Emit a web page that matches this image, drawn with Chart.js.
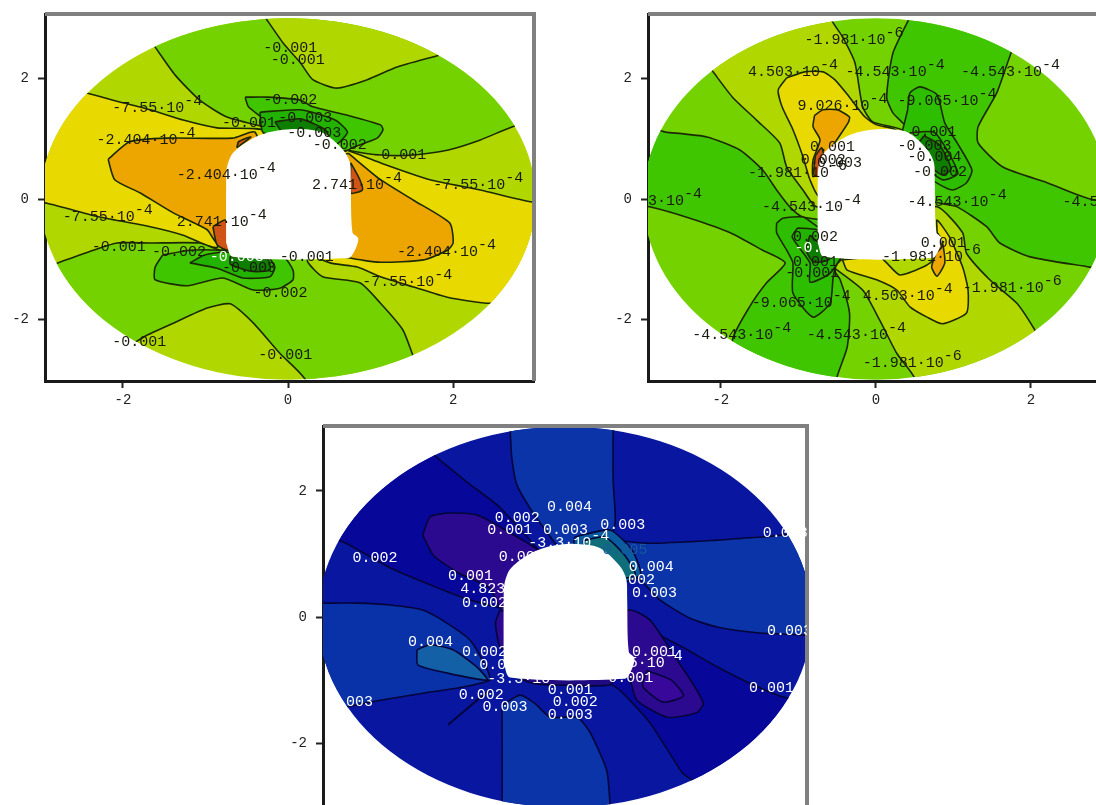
<!DOCTYPE html>
<html>
<head>
<meta charset="utf-8">
<title>Contour panels</title>
<script src="https://cdn.jsdelivr.net/npm/chart.js@4/dist/chart.umd.min.js"></script>
<style>
  html, body { margin: 0; padding: 0; background: #fff; width: 1096px; height: 805px; overflow: hidden; }
  canvas { position: absolute; filter: blur(0.4px); }
  #panel1 { left: 0; top: 0; }
  #panel2 { left: 603px; top: 0; }
  #panel3 { left: 278px; top: 412px; }
</style>
</head>
<body>
<canvas id="panel1" width="548" height="411"></canvas>
<canvas id="panel2" width="517" height="411"></canvas>
<canvas id="panel3" width="543" height="426"></canvas>
<script>
const tickValues = [-2, 0, 2];

// tunnel opening, same in all three panels
const hole = [[-0.75,-0.73],[-0.67,-0.96],[0.73,-0.98],[0.81,-0.85],[0.85,-0.65],[0.78,-0.55],[0.76,0.32],[0.75,0.6],[0.67,0.81],[0.42,1.10],[0.11,1.16],[-0.22,1.11],[-0.46,0.98],[-0.67,0.76],[-0.74,0.53],[-0.75,0.32]];
const wholeDisc = [[-4,-4],[4,-4],[4,4],[-4,4]];

// panel 1 contours
const p1UpperGreen = [[-1.61,2.52],[-1.37,2.06],[-1.07,1.64],[-0.74,1.36],[-0.25,1.18],[0.15,0.98],[0.72,0.81],[1.12,0.73],[1.52,0.73],[1.93,0.81],[2.33,0.98],[2.72,1.20],[3.5,1.5],[3.5,3.5],[-1.9,3.2]];
const p1TopCap = [[-0.28,3.02],[-0.06,2.59],[0.15,2.26],[0.30,1.98],[0.59,1.84],[0.96,1.98],[1.32,2.19],[1.84,2.39],[2.6,2.7],[2.6,3.8],[-0.4,3.8]];
const p1UpperDark = [[-0.52,1.69],[-0.25,1.69],[0.15,1.64],[0.30,1.53],[0.72,1.39],[1.12,1.23],[1.15,1.15],[1.08,1.01],[0.79,0.86],[0.72,0.81],[0.5,0.8],[-0.3,1.0],[-0.25,1.26],[-0.48,1.53]];
const p1UpperDarker = [[-0.34,1.44],[0.15,1.48],[0.57,1.31],[0.72,1.11],[0.57,0.9],[0.2,1.0],[-0.3,1.1]];
const p1UpperDarkest = [[-0.16,1.28],[0.15,1.33],[0.45,1.15],[0.5,0.95],[0,1.0]];
const p1LeftYellow = [[-2.44,1.76],[-2.12,1.64],[-1.67,1.48],[-1.27,1.31],[-0.86,1.18],[-0.25,1.11],[-0.3,0],[-0.86,-0.80],[-1.27,-0.60],[-1.67,-0.46],[-2.28,-0.30],[-2.92,-0.07],[-3.6,0.1],[-3.5,2.2]];
const p1RightYellow = [[0.72,0.81],[1.12,0.6],[1.72,0.32],[2.33,0.15],[2.96,-0.05],[3.6,-0.1],[3.4,-1.6],[2.45,-1.73],[1.93,-1.63],[1.52,-1.46],[1.12,-1.29],[0.84,-1.13],[0.51,-1.06],[0.3,-0.9],[0.3,0.5]];
const p1LowerGreen = [[-2.79,-1.06],[-2.36,-0.85],[-2.07,-0.73],[-1.67,-0.73],[-1.07,-0.73],[-0.82,-0.85],[-0.5,-0.8],[0.2,-0.8],[0.24,-1.05],[0.42,-1.29],[0.87,-1.39],[1.12,-1.73],[1.39,-2.17],[1.52,-2.62],[1.7,-3.2],[0.3,-3.6],[0.21,-3.0],[-0.10,-2.56],[-0.42,-2.06],[-0.70,-1.74],[-0.98,-1.81],[-1.39,-2.06],[-1.71,-2.26],[-2.2,-2.6],[-3.4,-1.6]];
const p1LowerDark = [[-1.52,-0.93],[-1.61,-1.13],[-1.61,-1.34],[-1.22,-1.44],[-0.79,-1.31],[-0.42,-1.51],[-0.10,-1.48],[0.06,-1.34],[0.06,-1.18],[-0.04,-0.98],[-0.3,-0.9],[-0.82,-0.85],[-1.19,-0.85]];
const p1LowerDarker = [[-1.19,-1.06],[-1.01,-0.93],[-0.76,-0.88],[-0.25,-0.96],[-0.16,-1.13],[-0.22,-1.29],[-0.55,-1.31],[-0.86,-1.15]];
const p1LowerDarkest = [[-0.7,-0.95],[-0.25,-1.0],[-0.22,-1.18],[-0.45,-1.2],[-0.7,-1.08]];
const p1LeftOrange = [[-2.18,0.66],[-1.92,0.95],[-1.47,1.01],[-0.67,1.01],[-0.4,1.11],[-0.3,0.5],[-0.3,-0.8],[-0.86,-0.73],[-0.98,-0.51],[-1.39,-0.23],[-1.79,0.10],[-2.10,0.32]];
const p1RightOrange = [[0.73,0.76],[1.12,0.32],[1.52,-0.02],[1.96,-0.40],[2.0,-0.73],[1.93,-0.85],[1.64,-1.01],[1.12,-1.05],[0.75,-0.98],[0.3,-0.8],[0.3,0.5]];
const p1LeftRed = [[-0.91,-0.46],[-0.76,-0.35],[-0.5,-0.6],[-0.72,-0.85],[-0.86,-0.76]];
const p1RightRed = [[0.76,0.6],[0.87,0.32],[0.9,0.15],[0.76,0.1]];
const p1TopRed = [[-0.62,0.85],[-0.45,1.03],[-0.6,0.95]];
const p1Labels = [
  [-0.30,2.51,'-0.001'],[-0.21,2.31,'-0.001'],[-2.13,1.51,'-7.55·10','-4'],[-2.32,0.98,'-2.404·10','-4'],
  [-0.30,1.64,'-0.002'],[-0.80,1.26,'-0.001'],[-0.12,1.34,'-0.003'],[-0.01,1.10,'-0.003'],[0.30,0.90,'-0.002'],
  [1.02,0.73,'-0.001'],[0.29,0.23,'2.741·10','-4'],[1.76,0.23,'-7.55·10','-4'],[-1.35,0.40,'-2.404·10','-4'],
  [-2.73,-0.30,'-7.55·10','-4'],[-1.35,-0.38,'2.741·10','-4'],[-2.38,-0.80,'-0.001'],[-1.65,-0.88,'-0.002'],
  [-0.80,-1.15,'-0.003'],[-0.10,-0.96,'-0.001'],[-0.42,-1.56,'-0.002'],[1.32,-0.88,'-2.404·10','-4'],
  [0.90,-1.38,'-7.55·10','-4'],[-2.13,-2.37,'-0.001'],[-0.36,-2.59,'-0.001']
];
const p1WhiteLabels = [[-0.95,-0.96,'-0.003']];

// panel 2 contours
const p2LeftBottomDark = [[-2.71,1.11],[-2.18,1.03],[-1.75,0.81],[-1.46,0.48],[-1.28,0.15],[-1.11,-0.13],[-0.94,-0.30],[0,-0.51],[-0.55,-1.13],[-0.46,-1.34],[-0.34,-1.89],[-0.37,-2.46],[-0.50,-2.95],[-0.6,-3.6],[-1.85,-3.67],[-1.85,-2.34],[-1.63,-1.79],[-1.41,-1.39],[-1.17,-1.06],[-1.46,-0.85],[-1.88,-0.56],[-2.40,-0.32],[-2.92,-0.13],[-3.5,0],[-3.4,1.3]];
const p2RightDark = [[0.44,3.02],[0.22,2.42],[0.14,1.69],[0.22,1.43],[0.44,1.10],[0.2,0.2],[0.83,-0.07],[1.05,-0.13],[1.43,-0.46],[1.60,-0.73],[1.99,-0.96],[2.76,-1.13],[3.5,-1.3],[3.6,0.2],[2.84,-0.02],[2.21,0.27],[1.64,0.53],[1.32,0.93],[1.32,1.2],[1.56,1.76],[1.75,2.44],[1.95,3.0],[0.6,3.7]];
const p2TopLeftLime = [[-2.10,2.11],[-1.85,1.69],[-1.54,1.31],[-1.24,0.93],[-1.15,0.53],[-0.94,0.15],[-0.76,-0.13],[0.2,0.2],[0.40,1.10],[-0.04,1.28],[-0.17,1.53],[-0.27,2.26],[-0.43,2.69],[-0.57,2.97],[-0.7,3.6],[-2.6,3.0]];
const p2BottomRightLime = [[-0.55,-1.13],[-0.17,-1.51],[0.05,-2.01],[0.27,-2.56],[0.50,-2.97],[0.6,-3.6],[2.7,-3.6],[2.05,-2.17],[1.82,-1.73],[1.47,-1.34],[1.17,-0.90],[1.12,-0.56],[0.79,-0.13],[0.2,-0.3]];
const p2TopYellow = [[-1.15,2.01],[-1.26,1.81],[-1.21,1.53],[-1.07,1.15],[-0.94,0.70],[-0.85,0.32],[-0.72,0.03],[0,0.3],[0.27,1.13],[0.01,1.23],[-0.14,1.36],[-0.34,1.69],[-0.53,1.98],[-0.68,2.11],[-0.92,2.11]];
const p2TopOrange = [[-0.79,1.39],[-0.81,1.20],[-0.72,0.98],[-0.81,0.65],[-0.81,0.37],[-0.68,0.53],[-0.59,0.81],[-0.36,1.26],[-0.34,1.36],[-0.50,1.48],[-0.68,1.48]];
const p2TopRed = [[-0.78,0.72],[-0.80,0.4],[-0.72,0.38],[-0.66,0.62],[-0.7,0.85]];
const p2UpperBlob = [[0.41,1.48],[0.44,1.76],[0.57,1.86],[0.79,1.73],[0.89,1.26],[1.05,0.93],[1.24,0.48],[1.17,0.27],[0.99,0.15],[0.77,0.28],[0.3,0.7]];
const p2UpperBlobInner = [[0.44,1.10],[0.76,1.10],[1.06,0.43],[0.86,0.32],[0.5,0.7]];
const p2UpperBlobCore = [[0.62,1.05],[0.82,0.9],[0.97,0.5],[0.85,0.4],[0.5,0.8]];
const p2LowerBlob = [[-1.28,-0.40],[-1.20,-0.32],[-0.94,-0.30],[-0.75,-0.46],[-0.4,-0.7],[-0.49,-1.01],[-0.55,-1.29],[-0.59,-1.73],[-0.81,-1.96],[-1.07,-1.56],[-1.07,-1.06],[-1.15,-0.85],[-1.28,-0.56]];
const p2LowerBlobInner = [[-1.01,-0.48],[-0.76,-0.51],[-0.4,-0.8],[-0.59,-1.23],[-0.85,-1.38],[-0.85,-1.06],[-1.08,-0.63]];
const p2LowerBlobCore = [[-0.85,-0.6],[-0.72,-0.75],[-0.6,-1.0],[-0.8,-1.05],[-0.9,-0.85]];
const p2LowerYellow = [[-0.43,-1.01],[0.05,-0.96],[0.14,-1.06],[0.31,-1.26],[0.61,-1.13],[0.74,-1.01],[0.79,-0.56],[0.79,-0.35],[0.95,-0.63],[1.12,-1.13],[1.19,-1.51],[1.17,-1.89],[0.86,-2.07],[0.66,-1.96],[0.44,-1.79],[0.27,-1.51],[0.01,-1.34],[-0.37,-1.18]];
const p2LowerOrange = [[0.79,-0.85],[0.72,-1.13],[0.79,-1.28],[0.89,-1.06],[0.86,-0.73],[0.79,-0.56]];
const p2LowerRed = [[0.82,-0.6],[0.86,-0.78],[0.78,-0.88]];
const p2Labels = [
  [-0.92,2.64,'-1.981·10','-6'],[-1.65,2.11,'4.503·10','-4'],[-0.39,2.11,'-4.543·10','-4'],[1.10,2.11,'-4.543·10','-4'],
  [-1.01,1.54,'9.026·10','-4'],[0.28,1.63,'-9.065·10','-4'],[-0.85,0.86,'0.001'],[-0.97,0.65,'0.002'],[-0.76,0.60,'0.003'],
  [-1.65,0.43,'-1.981·10','-6'],[0.46,1.11,'0.001'],[0.28,0.88,'-0.003'],[0.41,0.70,'-0.004'],[0.48,0.45,'-0.002'],
  [-1.47,-0.13,'-4.543·10','-4'],[0.41,-0.05,'-4.543·10','-4'],[2.41,-0.05,'-4.543·10','-4'],[-3.52,-0.03,'-4.543·10','-4'],
  [-1.07,-0.63,'0.002'],[-1.07,-1.05,'0.001'],[-1.17,-1.23,'-0.001'],[-1.60,-1.73,'-9.065·10','-4'],
  [-2.37,-2.26,'-4.543·10','-4'],[-0.89,-2.26,'-4.543·10','-4'],[-0.17,-1.61,'4.503·10','-4'],[-0.17,-2.72,'-1.981·10','-6'],
  [1.12,-1.48,'-1.981·10','-6'],[0.08,-0.96,'-1.981·10','-6'],[0.58,-0.73,'0.001']
];
const p2WhiteLabels = [[-1.05,-0.81,'-0.003']];

// panel 3 contours
const p3TopBand = [[-0.67,2.94],[-0.65,2.52],[-0.59,2.10],[-0.43,1.73],[-0.24,1.38],[-0.06,1.1],[0.43,1.0],[0.61,1.46],[0.59,2.14],[0.59,2.94],[0.62,3.6],[-0.7,3.6]];
const p3UpperDark = [[-1.53,2.49],[-1.20,2.14],[-0.79,1.73],[-0.2,0.8],[-0.4,0.08],[-1.16,0.27],[-1.65,0.51],[-2.14,0.78],[-2.71,1.19],[-3.4,1.5],[-2.2,3.2]];
const p3LeftMid = [[-2.93,0.22],[-2.54,0.22],[-2.14,0.19],[-1.74,0.11],[-1.44,-0.10],[-1.16,-0.37],[-0.95,-0.84],[-0.92,-1.0],[-1.25,-1.11],[-1.74,-1.21],[-2.26,-1.32],[-2.69,-1.43],[-3.4,-1.6],[-3.5,0.3]];
const p3LeftTeal = [[-1.81,-0.52],[-1.80,-0.76],[-1.44,-0.89],[-0.95,-1.0],[-1.08,-0.79],[-1.37,-0.52],[-1.65,-0.44]];
const p3UpperPurple = [[-1.74,1.30],[-1.65,1.59],[-1.41,1.65],[-1.08,1.62],[-0.73,1.38],[-0.2,0.9],[-0.4,-0.1],[-0.76,0.08],[-0.92,0.46],[-1.32,0.71],[-1.61,0.98]];
const p3SidePurple = [[-0.8,0.1],[-0.4,0.1],[-0.4,-0.5],[-0.78,-0.5],[-0.85,-0.1]];
const p3RightMid = [[0.59,1.22],[1.04,1.17],[1.86,1.22],[2.42,1.27],[3.4,1.3],[3.4,-0.35],[2.96,-0.29],[2.35,-0.25],[1.86,-0.16],[1.53,-0.02],[1.16,0.27],[0.92,0.59],[0.76,0.67],[0.3,0.6]];
const p3RightDark = [[0.8,-0.05],[1.44,-0.48],[1.86,-0.79],[2.26,-1.05],[2.67,-1.27],[3.4,-1.5],[2.0,-3.0],[1.56,-2.59],[1.44,-2.48],[1.04,-1.68],[0.67,-1.16],[0.3,-0.8],[0.4,-0.1]];
const p3LowerPurple = [[0.79,-0.95],[0.88,-1.32],[1.25,-1.59],[1.61,-1.52],[1.69,-1.37],[1.56,-1.05],[1.37,-0.68],[1.04,-0.05],[0.79,0.11],[0.3,-0.2],[0.3,-0.9]];
const p3LowerPurpleInner = [[1.0,-0.85],[1.3,-1.0],[1.45,-1.25],[1.2,-1.35],[0.95,-1.1]];
const p3BottomBand = [[-0.77,-1.40],[-0.55,-1.24],[-0.37,-1.37],[-0.18,-1.59],[0.15,-1.59],[0.31,-1.84],[0.51,-2.43],[0.55,-2.95],[0.58,-3.6],[-0.8,-3.6],[-0.77,-2.95]];
const p3BelowHole = [[-0.7,-0.9],[0.6,-0.9],[0.55,-1.08],[-0.1,-1.08],[-0.4,-1.05]];
const p3ArchBand = [[0.12,1.27],[0.55,1.38],[0.82,1.06],[0.92,0.67],[0.5,0.5],[0.1,1.0]];
const p3ArchTeal = [[0.22,1.21],[0.49,1.27],[0.73,0.98],[0.86,0.67],[0.6,0.6],[0.3,0.9]];
const p3Spike = [[-1.43,-1.71],[-1.12,-1.37],[-0.92,-1.16]];
const p3Labels = [
  [-0.22,1.75,'0.004'],[-0.86,1.57,'0.002'],[-0.95,1.38,'0.001'],[-0.27,1.38,'0.003'],[-0.45,1.17,'-3.3·10','-4'],
  [0.43,1.46,'0.003'],[0.78,0.79,'0.004'],[0.55,0.59,'0.002'],[0.82,0.38,'0.003'],[2.42,1.33,'0.003'],
  [-2.60,0.94,'0.002'],[-1.43,0.65,'0.001'],[-1.28,0.44,'4.823·10','-4'],[-1.26,0.22,'0.002'],[-0.81,0.95,'0.002'],
  [-1.92,-0.40,'0.004'],[-1.26,-0.56,'0.002'],[-1.05,-0.76,'0.003'],[-0.95,-0.98,'-3.3·10','-4'],[-1.30,-1.24,'0.002'],
  [-1.01,-1.43,'0.003'],[-0.21,-1.16,'0.001'],[-0.15,-1.35,'0.002'],[-0.21,-1.56,'0.003'],[0.82,-0.56,'0.001'],
  [0.34,-0.73,'4.825·10','-4'],[0.53,-0.97,'0.001'],[2.47,-0.22,'0.003'],[2.25,-1.13,'0.001'],[-2.90,-1.35,'0.003']
];
const p3DimLabels = [[0.46,1.06,'0.005']];

const lime = '#b0d800', green = '#74d200', dark = '#40c600', darker = '#22b200', darkest = '#0e7e00';
const yellow = '#e8da00', orange = '#eda500', red = '#cf5416';
const navy = '#0816a0', deep = '#07089a', midBlue = '#0a34a8', steel = '#0a32a8', teal = '#1360a6';
const purple = '#2c0a90', lightPurple = '#38089a', archBlue = '#0a5ca0', archTeal = '#0f6e7a', belowHole = '#200a80';

const panel1Layers = [
  [wholeDisc, lime], [p1UpperGreen, green], [p1TopCap, lime], [p1LeftYellow, yellow], [p1RightYellow, yellow],
  [p1LowerGreen, green], [p1UpperDark, dark], [p1UpperDarker, darker], [p1UpperDarkest, darkest],
  [p1LowerDark, dark], [p1LowerDarker, darker], [p1LowerDarkest, darkest],
  [p1LeftOrange, orange], [p1RightOrange, orange], [p1LeftRed, red], [p1RightRed, red], [p1TopRed, red]
];
const panel2Layers = [
  [wholeDisc, green], [p2LeftBottomDark, dark], [p2RightDark, dark], [p2TopLeftLime, lime], [p2BottomRightLime, lime],
  [p2TopYellow, yellow], [p2TopOrange, orange], [p2TopRed, red],
  [p2UpperBlob, '#2ebe00'], [p2UpperBlobInner, darker], [p2UpperBlobCore, darkest],
  [p2LowerBlob, '#2ebe00'], [p2LowerBlobInner, darker], [p2LowerBlobCore, darkest],
  [p2LowerYellow, yellow], [p2LowerOrange, orange], [p2LowerRed, red]
];
const panel3Layers = [
  [wholeDisc, navy], [p3TopBand, midBlue], [p3UpperDark, deep], [p3LeftMid, steel], [p3LeftTeal, teal],
  [p3UpperPurple, purple], [p3SidePurple, purple], [p3RightMid, midBlue], [p3RightDark, deep],
  [p3LowerPurple, purple], [p3LowerPurpleInner, lightPurple], [p3BottomBand, midBlue], [p3BelowHole, belowHole],
  [p3ArchBand, archBlue], [p3ArchTeal, archTeal]
];

function toXY(points) {
    return points.map(p => ({ x: p[0], y: p[1] }));
}

function buildDatasets(layers, lineColor, extraLines) {
    const sets = layers.map(([points, color]) => ({
        data: toXY(points.concat([points[0]])),
        backgroundColor: color,
        borderColor: lineColor,
        borderWidth: 1.6,
        borderJoinStyle: 'round',
        tension: 0.2,
        capBezierPoints: false,
        fill: 'shape',
        showLine: true,
        pointRadius: 0
    }));
    (extraLines || []).forEach(points => {
        sets.push({ data: toXY(points), borderColor: lineColor, borderWidth: 2, fill: false, showLine: true, pointRadius: 0 });
    });
    sets.push({ data: toXY(hole.concat([hole[0]])), backgroundColor: '#ffffff', borderWidth: 0, tension: 0.3, capBezierPoints: false, fill: 'shape', showLine: true, pointRadius: 0 });
    // chart.js paints the first dataset last, so flip to keep painter's order
    return sets.reverse();
}

function drawLabels(ctx, chart, labels, color) {
    const xs = chart.scales.x, ys = chart.scales.y;
    ctx.fillStyle = color;
    ctx.textBaseline = 'middle';
    ctx.textAlign = 'left';
    labels.forEach(([x, y, text, sup]) => {
        const px = xs.getPixelForValue(x), py = ys.getPixelForValue(y);
        ctx.font = '15px "Liberation Mono"';
        ctx.fillText(text, px, py);
        if (sup) {
            const w = ctx.measureText(text).width;
            ctx.fillText(sup, px + w, py - 7);
        }
    });
}

const discPlugin = {
    id: 'disc',
    beforeDatasetsDraw(chart, args, opts) {
        const { ctx, scales: { x, y } } = chart;
        const cx = x.getPixelForValue(0), cy = y.getPixelForValue(0);
        ctx.save();
        ctx.beginPath();
        ctx.ellipse(cx, cy, x.getPixelForValue(opts.radius) - cx, cy - y.getPixelForValue(opts.radius), 0, 0, Math.PI * 2);
        ctx.clip();
    },
    afterDatasetsDraw(chart, args, opts) {
        const { ctx, chartArea: a } = chart;
        ctx.restore();
        // frame top and right are grey
        ctx.save();
        ctx.strokeStyle = '#808080';
        ctx.lineWidth = 4;
        ctx.beginPath();
        ctx.moveTo(a.left, a.top);
        ctx.lineTo(a.right, a.top);
        ctx.lineTo(a.right, a.bottom);
        ctx.stroke();
        ctx.restore();
        // labels get cut at the plot frame
        ctx.save();
        ctx.beginPath();
        ctx.rect(a.left, a.top, a.right - a.left, a.bottom - a.top);
        ctx.clip();
        opts.groups.forEach(g => drawLabels(ctx, chart, g.labels, g.color));
        ctx.restore();
    }
};

function axisOptions(min, max, pad) {
    return {
        type: 'linear',
        min: min,
        max: max,
        afterBuildTicks: s => { s.ticks = tickValues.map(v => ({ value: v })); },
        grid: { display: true, drawOnChartArea: false, drawTicks: true, tickLength: 7, tickColor: '#222', tickWidth: 2 },
        border: { display: true, color: '#1a1a1a', width: 3 },
        ticks: { color: '#222', font: { family: 'Liberation Mono', size: 14 }, padding: pad, maxRotation: 0, autoSkip: false, callback: v => String(v) }
    };
}

function makeChart(id, datasets, xRange, yRange, radius, groups) {
    const xAxis = axisOptions(xRange[0], xRange[1], 4);
    const yAxis = axisOptions(yRange[0], yRange[1], 9);
    // fixed gutters so the plot box does not move with the tick font
    xAxis.afterFit = s => { s.height = 30; s.paddingLeft = 0; s.paddingRight = 0; };
    yAxis.afterFit = s => { s.width = 45; s.paddingTop = 0; s.paddingBottom = 0; };
    return new Chart(document.getElementById(id), {
        type: 'scatter',
        data: { datasets: datasets },
        options: {
            responsive: false,
            animation: false,
            layout: { padding: { top: 14, right: 14, left: 0, bottom: 0 } },
            scales: { x: xAxis, y: yAxis },
            plugins: {
                legend: { display: false },
                tooltip: { enabled: false },
                disc: { groups: groups, radius: radius }
            }
        },
        plugins: [discPlugin]
    });
}

makeChart('panel1', buildDatasets(panel1Layers, '#1c2a00'), [-2.945, 2.98], [-3.02, 3.07], 3,
    [{ labels: p1Labels, color: '#1a1a10' }, { labels: p1WhiteLabels, color: '#ffffff' }]);
makeChart('panel2', buildDatasets(panel2Layers, '#1c2a00'), [-2.94, 2.97], [-3.02, 3.07], 3,
    [{ labels: p2Labels, color: '#1a1a10' }, { labels: p2WhiteLabels, color: '#ffffff' }]);
makeChart('panel3', buildDatasets(panel3Layers, '#05053a', [p3Spike]), [-2.96, 2.96], [-3.03, 3.03], 3.02,
    [{ labels: p3Labels, color: '#ffffff' }, { labels: p3DimLabels, color: '#1a5a9a' }]);
</script>
</body>
</html>
